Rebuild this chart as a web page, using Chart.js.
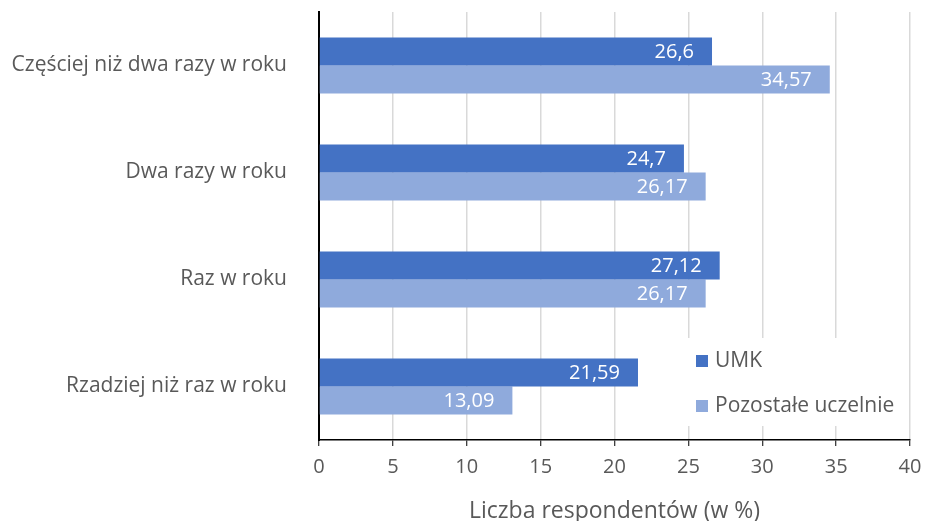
<!DOCTYPE html>
<html>
<head>
<meta charset="utf-8">
<script src="https://cdn.jsdelivr.net/npm/chart.js@4"></script>
<style>
  html, body { margin: 0; padding: 0; background: #fff; }
  #wrap { width: 927px; height: 521px; }
</style>
</head>
<body>
<div id="wrap"><canvas id="chart" width="927" height="521"></canvas></div>
<script>
const categories = ["Częściej niż dwa razy w roku", "Dwa razy w roku", "Raz w roku", "Rzadziej niż raz w roku"]
const umkValues = [26.6, 24.7, 27.12, 21.59]
const otherValues = [34.57, 26.17, 26.17, 13.09]
const seriesNames = ["UMK", "Pozostałe uczelnie"]
const seriesColors = ["#4472C4", "#8FAADC"]
const xTitle = "Liczba respondentów (w %)"

const FONT = "'Open Sans', sans-serif"

function fmt(v){
    return String(v).replace(".", ",")
}

// white value labels at the inner end of each bar
const valueLabels = {
    id: "valueLabels",
    afterDatasetsDraw(chart){
        const ctx = chart.ctx
        ctx.save()
        ctx.font = "20px " + FONT
        ctx.fillStyle = "#fff"
        ctx.textAlign = "right"
        ctx.textBaseline = "middle"
        chart.data.datasets.forEach((ds, i) => {
            chart.getDatasetMeta(i).data.forEach((bar, j) => {
                ctx.fillText(fmt(ds.data[j]), bar.x - 18, bar.y + 1)
            })
        })
        ctx.restore()
    }
}

// legend box sitting inside the plot area, bottom right
const insideLegend = {
    id: "insideLegend",
    afterDraw(chart){
        const ctx = chart.ctx
        const x = 696
        const y0 = 338
        ctx.save()
        ctx.fillStyle = "#fff"
        ctx.fillRect(x - 8, y0, 212, 88)
        ctx.font = "21px " + FONT
        ctx.textBaseline = "middle"
        ctx.textAlign = "left"
        chart.data.datasets.forEach((ds, i) => {
            const cy = y0 + 23 + i * 45
            ctx.fillStyle = ds.backgroundColor
            ctx.fillRect(x, cy - 6, 12, 12)
            ctx.fillStyle = "#595959"
            ctx.fillText(ds.label, x + 19, cy)
        })
        ctx.restore()
    }
}

const config = {
    type: "bar",
    data: {
        labels: categories,
        datasets: [
            { label: seriesNames[0], data: umkValues, backgroundColor: seriesColors[0] },
            { label: seriesNames[1], data: otherValues, backgroundColor: seriesColors[1] }
        ]
    },
    options: {
        indexAxis: "y",
        responsive: false,
        animation: false,
        layout: { padding: { top: 12, right: 17, left: 0, bottom: 0 } },
        datasets: {
            bar: { categoryPercentage: 0.523, barPercentage: 1.0 }
        },
        plugins: {
            legend: { display: false },
            tooltip: { enabled: false }
        },
        scales: {
            x: {
                min: 0,
                max: 40,
                ticks: {
                    stepSize: 5,
                    color: "#595959",
                    font: { size: 20, family: FONT },
                    padding: 9
                },
                grid: {
                    color: "#d9d9d9",
                    lineWidth: 1.5,
                    tickColor: "#000",
                    tickLength: 6,
                    tickWidth: 1
                },
                border: { display: true, color: "#000", width: 1.5 },
                title: {
                    display: true,
                    text: xTitle,
                    color: "#595959",
                    font: { size: 23, family: FONT },
                    padding: { top: 12, bottom: -4 }
                },
                afterFit(scale){
                    scale.height = 81
                    scale.paddingLeft = 0
                    scale.paddingRight = 0
                }
            },
            y: {
                ticks: {
                    color: "#595959",
                    font: { size: 21, family: FONT },
                    padding: 32
                },
                grid: { display: false, drawTicks: false },
                border: { display: true, color: "#000", width: 2 },
                afterFit(scale){
                    scale.width = 319
                    scale.paddingTop = 0
                    scale.paddingBottom = 0
                }
            }
        }
    },
    plugins: [valueLabels, insideLegend]
}

const chart = new Chart(document.getElementById("chart"), config)
</script>
</body>
</html>
